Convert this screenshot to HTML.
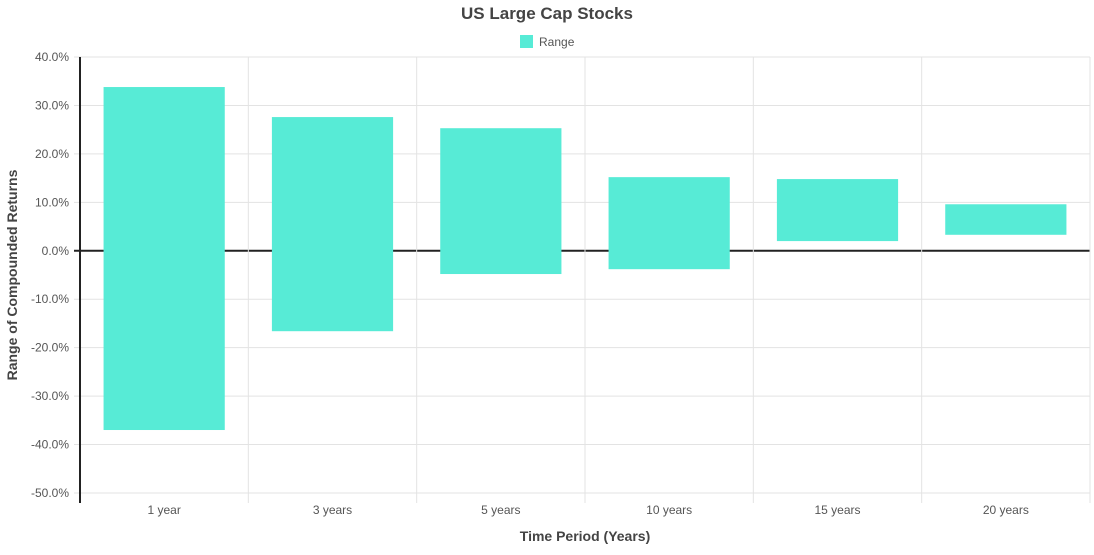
<!DOCTYPE html>
<html><head><meta charset="utf-8"><style>
body{margin:0;background:#fff;font-family:"Liberation Sans",Arial,sans-serif}
svg text{font-family:"Liberation Sans",Arial,sans-serif}
</style></head><body>
<svg id="chart" width="1094" height="550" xmlns="http://www.w3.org/2000/svg">
<text x="547" y="19" text-anchor="middle" font-size="17" font-weight="bold" fill="#444">US Large Cap Stocks</text>
<g><rect x="520" y="35" width="13" height="13" fill="#57ebd6"/><text x="539" y="46" font-size="12" fill="#555">Range</text></g>
<text transform="translate(17,275) rotate(-90)" text-anchor="middle" font-size="14" font-weight="bold" fill="#444">Range of Compounded Returns</text>
<text x="585" y="541" text-anchor="middle" font-size="14" font-weight="bold" fill="#444">Time Period (Years)</text>
<g id="grid"></g><g id="bars"></g><g id="axes"></g>
</svg>
<script>
const categories=["1 year","3 years","5 years","10 years","15 years","20 years"];
const highs=[33.8,27.6,25.3,15.2,14.8,9.6];
const lows=[-37.0,-16.6,-4.8,-3.8,2.0,3.3];
const yTicks=[40,30,20,10,0,-10,-20,-30,-40,-50];
const L=80,R=1090,T=57,B=493,yMax=40,yMin=-50;
const NS="http://www.w3.org/2000/svg";
const y=v=>T+(yMax-v)/(yMax-yMin)*(B-T);
const bw=(R-L)/categories.length;
const x=i=>L+bw*i;
function mk(tag,attrs,parent){const e=document.createElementNS(NS,tag);for(const k in attrs)e.setAttribute(k,attrs[k]);document.getElementById(parent).appendChild(e);return e;}
yTicks.forEach(t=>{
 const l=mk('line',{x1:L-6,x2:R,y1:y(t),y2:y(t),stroke:t===0?'#222':'#e3e3e3','stroke-width':t===0?2:1},'grid');
 
 
 const tx=mk('text',{x:L-11,y:y(t)+4,'text-anchor':'end','font-size':12,fill:'#555'},'axes');
 tx.textContent=t.toFixed(1)+'%';
 
 
});
for(let i=0;i<=categories.length;i++){
 const l=mk('line',{x1:x(i),x2:x(i),y1:T,y2:B+10,stroke:'#e3e3e3'},'grid');
 
 
}
categories.forEach((c,i)=>{
 const w=bw*0.72;
 const r=mk('rect',{x:x(i)+(bw-w)/2,y:y(highs[i]),width:w,height:y(lows[i])-y(highs[i]),fill:'#57ebd6'},'bars');
 
 
 const tx=mk('text',{x:x(i)+bw/2,y:B+21,'text-anchor':'middle','font-size':12,fill:'#555'},'axes');
 tx.textContent=c;
 
 
});
const ax=mk('line',{x1:L,x2:L,y1:T,y2:B+10,stroke:'#222','stroke-width':2},'axes');


</script>
</body></html>
